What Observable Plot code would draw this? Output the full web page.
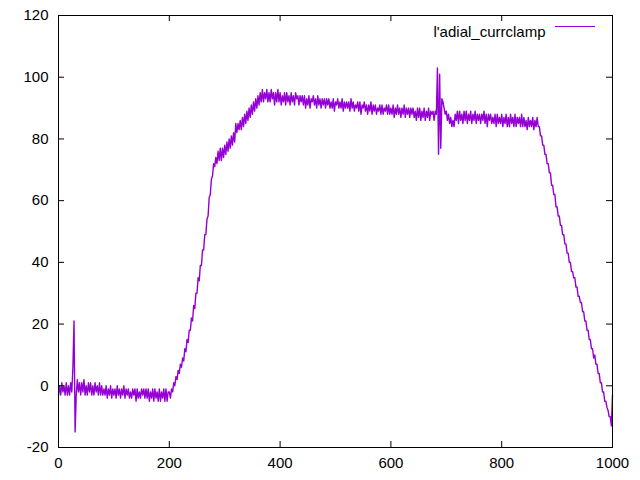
<!DOCTYPE html>
<html>
<head>
<meta charset="utf-8">
<script src="https://cdn.jsdelivr.net/npm/d3@7"></script>
<script src="https://cdn.jsdelivr.net/npm/@observablehq/plot@0.6"></script>
<style>
  html, body { margin: 0; padding: 0; background: #fff; }
</style>
</head>
<body>
<div id="chart"></div>
<script>
// Series title
const seriesName = "l'adial_currclamp";
// sample spacing along x (one value every 2 units, starting at 0)
const xStep = 2;
// y values, rows of 20 (each row covers 40 x units)
const yValues = [
  -3, 0, -3, 1, -2, 0, -3, 1, -3, 0, -3, 1, -2, 6, 21, -15, -3, 2, -2, 1,            // 0-38
  -3, 1, -2, 2, -3, 0, -3, 1, -2, 1, -3, 0, -3, 1, -2, 0, -3, 1, -3, 0,              // 40-78
  -3, -1, -3, 0, -4, -1, -3, 0, -4, -1, -3, -1, -4, 0, -3, -1, -4, -1, -3, 0,        // 80-118
  -4, -1, -3, -1, -4, -2, -4, -1, -3, -1, -5, -1, -4, -2, -4, -1, -3, -1, -4, -1,    // 120-158
  -4, -1, -5, -2, -4, -1, -5, -1, -4, -2, -5, -1, -5, -2, -4, -1, -5, -1, -5, -2,    // 160-198
  -2, -4, -1, -2, 1, 0, 3, 2, 5, 4, 7, 6, 9, 8, 12, 11, 15, 14, 18, 18,              // 200-238
  22, 21, 26, 25, 30, 30, 35, 34, 39, 39, 44, 44, 49, 49, 54, 55, 61, 62, 67, 68,    // 240-278
  72, 71, 74, 72, 76, 73, 77, 73, 77, 74, 78, 75, 79, 76, 80, 77, 81, 78, 82, 79,    // 280-318
  85, 82, 85, 83, 86, 83, 87, 84, 88, 85, 89, 86, 90, 87, 91, 88, 92, 89, 93, 90,    // 320-358
  94, 91, 95, 92, 96, 92, 95, 93, 96, 92, 95, 92, 96, 93, 95, 91, 95, 92, 96, 92,    // 360-398
  95, 91, 94, 92, 95, 91, 95, 92, 94, 91, 95, 92, 94, 91, 95, 93, 94, 91, 94, 92,    // 400-438
  94, 91, 94, 90, 93, 91, 94, 90, 93, 92, 94, 91, 93, 90, 94, 91, 93, 90, 93, 91,    // 440-478
  93, 90, 93, 91, 93, 90, 92, 90, 93, 89, 92, 91, 93, 90, 92, 90, 93, 89, 92, 90,    // 480-518
  92, 90, 92, 89, 93, 90, 92, 89, 91, 90, 92, 89, 92, 88, 91, 90, 92, 89, 91, 88,    // 520-558
  91, 89, 92, 88, 91, 89, 91, 88, 90, 89, 91, 88, 91, 88, 90, 89, 91, 88, 91, 88,    // 560-598
  90, 88, 91, 87, 90, 88, 91, 88, 90, 87, 90, 88, 91, 87, 90, 88, 90, 87, 90, 88,    // 600-638
  90, 87, 89, 86, 90, 87, 90, 86, 89, 87, 90, 86, 89, 87, 90, 86, 89, 88, 89, 86,    // 640-678
  89, 88, 103, 75, 101, 77, 93, 92, 90, 88, 89, 86, 88, 85, 87, 84, 86, 84, 88, 86,  // 680-718
  89, 85, 89, 86, 88, 85, 89, 86, 89, 85, 88, 86, 89, 85, 88, 86, 89, 85, 88, 86,    // 720-758
  88, 85, 88, 86, 89, 85, 88, 84, 88, 86, 88, 85, 87, 85, 88, 84, 88, 85, 87, 85,    // 760-798
  88, 84, 87, 85, 88, 84, 87, 84, 88, 85, 87, 84, 88, 84, 87, 85, 87, 84, 88, 84,    // 800-838
  87, 84, 86, 83, 87, 84, 86, 84, 87, 83, 86, 84, 87, 84, 84, 81, 81, 78, 78, 75,    // 840-878
  75, 72, 72, 69, 69, 65, 65, 62, 62, 58, 58, 55, 55, 52, 52, 49, 49, 46, 46, 43,    // 880-918
  43, 40, 40, 37, 37, 35, 35, 32, 32, 29, 29, 27, 27, 24, 24, 21, 21, 18, 18, 15,    // 920-958
  15, 12, 12, 9, 10, 7, 7, 4, 4, 1, 1, -2, -2, -5, -5, -7, -8, -10, -10, -13,        // 960-998
  -3                                                                                 // 1000
];
const xTicks = [0, 200, 400, 600, 800, 1000];
const yTicks = [-20, 0, 20, 40, 60, 80, 100, 120];

const data = yValues.map((y, i) => ({x: i * xStep, y}));

const W = 640, H = 480;
const mL = 58, mR = 28, mT = 15, mB = 33;
const pw = W - mL - mR, ph = H - mT - mB;
const tickLen = 6;
const lineColor = "#9400d3";

const chart = Plot.plot({
  width: W,
  height: H,
  marginLeft: mL,
  marginRight: mR,
  marginTop: mT,
  marginBottom: mB,
  style: {fontFamily: "'Liberation Sans', Arial, sans-serif", fontSize: "15px", color: "black", background: "white"},
  x: {domain: [0, 1000]},
  y: {domain: [-20, 120]},
  marks: [
    Plot.line(data, {x: "x", y: "y", stroke: lineColor, strokeWidth: 1.4}),
    Plot.frame({stroke: "black", strokeWidth: 1}),
    Plot.tickY(yTicks, {y: d => d, insetRight: pw - tickLen, stroke: "black"}),
    Plot.tickY(yTicks, {y: d => d, insetLeft: pw - tickLen, stroke: "black"}),
    Plot.tickX(xTicks, {x: d => d, insetTop: ph - tickLen, stroke: "black"}),
    Plot.tickX(xTicks, {x: d => d, insetBottom: ph - tickLen, stroke: "black"}),
    Plot.axisX({ticks: xTicks, tickSize: 0, tickPadding: 10, tickFormat: d => `${d}`, label: null, fontSize: 15}),
    Plot.axisY({ticks: yTicks, tickSize: 0, tickPadding: 10, tickFormat: d => `${d}`, label: null, fontSize: 15}),
    Plot.text([seriesName], {text: d => d, frameAnchor: "top-right", dx: -67, dy: 11, textAnchor: "end", fontSize: 15, fill: "black"})
  ]
});

// legend line sample
d3.select(chart).append("line")
  .attr("x1", 555).attr("x2", 595).attr("y1", 26.5).attr("y2", 26.5)
  .attr("stroke", lineColor).attr("stroke-width", 1);

document.getElementById("chart").appendChild(chart);
</script>
</body>
</html>
